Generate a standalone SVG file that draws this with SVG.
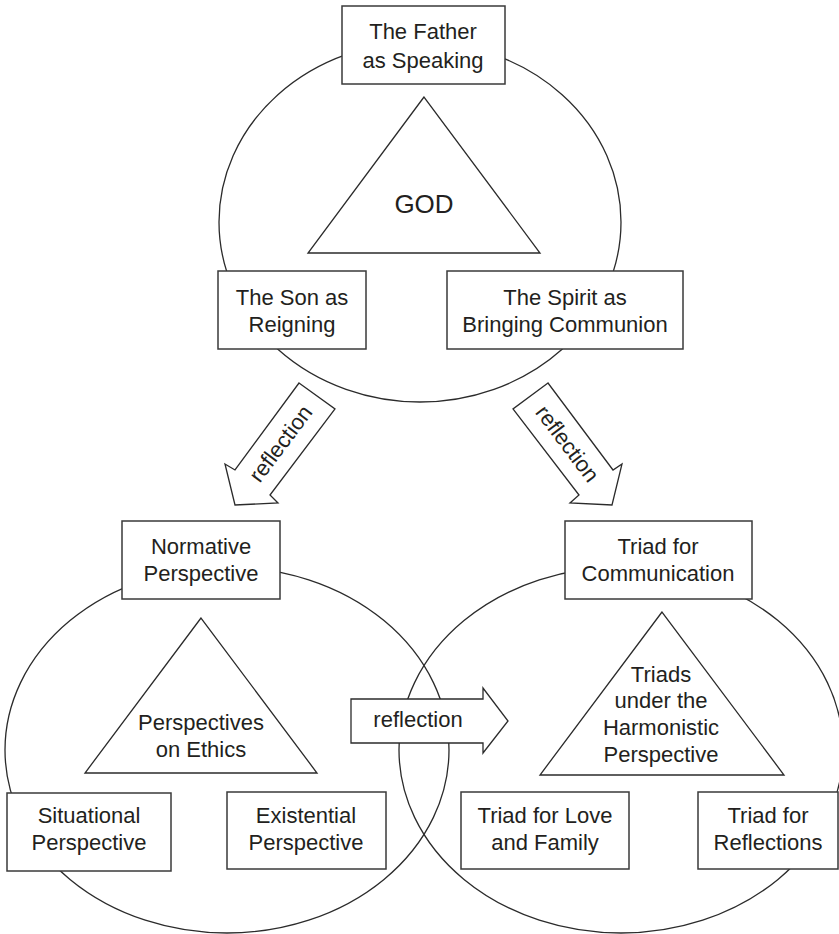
<svg xmlns="http://www.w3.org/2000/svg" width="839" height="934" viewBox="0 0 839 934">
<style>
.e{fill:none;stroke:#2b2b2b;stroke-width:1.3}
.b{fill:#fff;stroke:#3a3a3a;stroke-width:1.5}
.t{fill:none;stroke:#2b2b2b;stroke-width:1.3}
.a{fill:#fff;stroke:#2b2b2b;stroke-width:1.3;stroke-linejoin:miter}
text{font-family:"Liberation Sans",Arial,sans-serif;font-size:22px;fill:#231f20;text-anchor:middle}
</style>
<rect width="839" height="934" fill="#fff"/>
<g id="circles">
<ellipse class="e" cx="420" cy="222" rx="201" ry="180"/>
<ellipse class="e" cx="227" cy="750" rx="222" ry="183"/>
<ellipse class="e" cx="621" cy="750" rx="222" ry="183"/>
</g>
<g id="god">
<polygon class="t" points="424,97 308,253 540,253"/>
<text x="424" y="213" style="font-size:26px">GOD</text>
</g>
<g id="father">
<rect class="b" x="342" y="6" width="163" height="78"/>
<text x="423" y="39">The Father</text>
<text x="423" y="68">as Speaking</text>
</g>
<g id="son">
<rect class="b" x="218" y="271" width="148" height="78"/>
<text x="292" y="305">The Son as</text>
<text x="292" y="332">Reigning</text>
</g>
<g id="spirit">
<rect class="b" x="447" y="271" width="236" height="78"/>
<text x="565" y="305">The Spirit as</text>
<text x="565" y="332">Bringing Communion</text>
</g>
<g id="ethics">
<polygon class="t" points="201,618 85,773 317,773"/>
<text x="201" y="730">Perspectives</text>
<text x="201" y="757">on Ethics</text>
</g>
<g id="normative">
<rect class="b" x="122" y="521" width="158" height="78"/>
<text x="201" y="554">Normative</text>
<text x="201" y="581">Perspective</text>
</g>
<g id="situational">
<rect class="b" x="7" y="793" width="164" height="78"/>
<text x="89" y="823">Situational</text>
<text x="89" y="850">Perspective</text>
</g>
<g id="existential">
<rect class="b" x="227" y="792" width="159" height="77"/>
<text x="306" y="823">Existential</text>
<text x="306" y="850">Perspective</text>
</g>
<g id="harmonistic">
<polygon class="t" points="662,612 540,775 784,775"/>
<text x="661" y="682">Triads</text>
<text x="661" y="708">under the</text>
<text x="661" y="735">Harmonistic</text>
<text x="661" y="762">Perspective</text>
</g>
<g id="communication">
<rect class="b" x="565" y="521" width="187" height="78"/>
<text x="658" y="554">Triad for</text>
<text x="658" y="581">Communication</text>
</g>
<g id="love">
<rect class="b" x="461" y="792" width="168" height="77"/>
<text x="545" y="823">Triad for Love</text>
<text x="545" y="850">and Family</text>
</g>
<g id="reflections">
<rect class="b" x="698" y="792" width="140" height="77"/>
<text x="768" y="823">Triad for</text>
<text x="768" y="850">Reflections</text>
</g>
<g id="connectors">
<polygon class="a" points="299,383 335,409 270,495 278,503 235,505 225,464 235,470"/>
<text transform="translate(281,444) rotate(-53)" y="7">reflection</text>
<polygon class="a" points="548,383 513,409 579,495 570,503 612,505 622,464 613,470"/>
<text transform="translate(567,444) rotate(53)" y="7">reflection</text>
<polygon class="a" points="351,699 483,699 483,688 508,721 483,753 483,743 351,743"/>
<text x="418" y="727">reflection</text>
</g>
</svg>
